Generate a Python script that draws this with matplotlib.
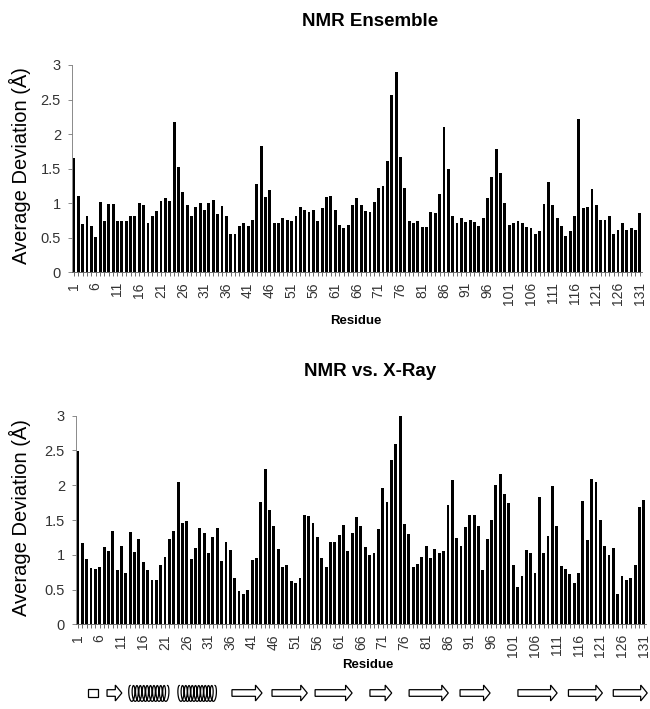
import numpy as np
import matplotlib
matplotlib.use("Agg")
import matplotlib.pyplot as plt
from matplotlib.patches import Rectangle

residues = np.arange(1, 132)

# average deviation per residue, NMR ensemble (A)
ensemble = [
    1.65, 1.11, 0.70, 0.82, 0.67, 0.52, 1.02, 0.75, 0.99, 0.99,
    0.74, 0.74, 0.75, 0.82, 0.82, 1.00, 0.97, 0.71, 0.82, 0.89,
    1.03, 1.08, 1.03, 2.17, 1.53, 1.17, 0.98, 0.82, 0.94, 1.01,
    0.91, 1.01, 1.05, 0.84, 0.96, 0.82, 0.55, 0.55, 0.67, 0.72,
    0.67, 0.76, 1.28, 1.83, 1.09, 1.19, 0.72, 0.71, 0.79, 0.76,
    0.74, 0.82, 0.95, 0.91, 0.88, 0.90, 0.75, 0.93, 1.09, 1.11,
    0.91, 0.69, 0.64, 0.69, 0.97, 1.07, 0.97, 0.89, 0.87, 1.02,
    1.22, 1.25, 1.61, 2.56, 2.90, 1.67, 1.22, 0.75, 0.72, 0.75,
    0.66, 0.66, 0.87, 0.86, 1.13, 2.10, 1.50, 0.81, 0.71, 0.79,
    0.73, 0.76, 0.73, 0.67, 0.79, 1.08, 1.38, 1.78, 1.44, 1.00,
    0.69, 0.71, 0.74, 0.71, 0.66, 0.64, 0.56, 0.60, 0.99, 1.31,
    0.98, 0.79, 0.67, 0.53, 0.60, 0.81, 2.22, 0.93, 0.95, 1.20,
    0.98, 0.76, 0.76, 0.82, 0.56, 0.62, 0.72, 0.62, 0.64, 0.61,
    0.86,
]

# average deviation per residue, NMR vs. X-ray (A)
xray = [
    2.49, 1.17, 0.94, 0.81, 0.79, 0.83, 1.11, 1.06, 1.34, 0.78,
    1.12, 0.74, 1.33, 1.04, 1.22, 0.89, 0.78, 0.64, 0.64, 0.85,
    0.97, 1.23, 1.34, 2.04, 1.46, 1.48, 0.94, 1.10, 1.38, 1.31,
    1.02, 1.25, 1.38, 0.91, 1.18, 1.07, 0.66, 0.48, 0.44, 0.50,
    0.93, 0.96, 1.76, 2.23, 1.65, 1.41, 1.09, 0.82, 0.85, 0.62,
    0.59, 0.66, 1.57, 1.56, 1.45, 1.26, 0.96, 0.82, 1.18, 1.19,
    1.28, 1.43, 1.05, 1.31, 1.55, 1.41, 1.11, 1.00, 1.02, 1.37,
    1.96, 1.76, 2.36, 2.60, 3.00, 1.44, 1.30, 0.83, 0.87, 0.97,
    1.12, 0.95, 1.08, 1.03, 1.06, 1.71, 2.08, 1.24, 1.13, 1.40,
    1.57, 1.57, 1.41, 0.78, 1.23, 1.50, 2.00, 2.16, 1.88, 1.74,
    0.85, 0.53, 0.69, 1.07, 1.02, 0.74, 1.83, 1.03, 1.27, 1.99,
    1.42, 0.84, 0.80, 0.73, 0.59, 0.74, 1.78, 1.21, 2.09, 2.04,
    1.50, 1.12, 0.99, 1.10, 0.44, 0.69, 0.63, 0.66, 0.85, 1.69,
    1.79,
]

tick_labels = [str(r) for r in range(1, 132, 5)]
yticks = [0, 0.5, 1, 1.5, 2, 2.5, 3]
ytick_labels = ["0", "0.5", "1", "1.5", "2", "2.5", "3"]

# secondary structure, in residue numbers
coil_spans = [(4.2, 6.5)]
helix_spans = [(13.4, 23.0), (24.7, 33.9)]
strand_spans = [(8.6, 12.0), (37.3, 44.2), (46.5, 54.6), (56.4, 64.9),
                (69.0, 74.0), (78.0, 87.0), (89.7, 96.6), (103.0, 112.0),
                (114.6, 122.4), (124.9, 132.7)]

plt.rcParams['font.family'] = ['Liberation Sans', 'DejaVu Sans']

W, H = 650, 709
fig = plt.figure(figsize=(6.5, 7.09), dpi=100)


def px_axes(left, right, top, bottom):
    return fig.add_axes([left / W, 1 - bottom / H, (right - left) / W, (bottom - top) / H])


def bar_panel(ax, values):
    ax.bar(residues, values, width=0.66, color='black')
    ax.set_xlim(0.55, 131.5)
    ax.set_ylim(0, 3)
    ax.set_yticks(yticks)
    ax.set_yticklabels(ytick_labels, fontsize=10.5, color='#333333')
    ax.set_xticks(residues, minor=True)
    ax.set_xticks(range(1, 132, 5))
    ax.set_xticklabels(tick_labels, rotation=90, fontsize=10, color='#333333')
    ax.tick_params(axis='x', which='both', length=3, width=0.6, color='#555555', pad=4)
    ax.tick_params(axis='y', length=3, width=0.6, color='#777777', pad=5)
    for s in ['top', 'right']:
        ax.spines[s].set_visible(False)
    ax.spines['left'].set_linewidth(0.6)
    ax.spines['left'].set_color('#777777')
    ax.spines['bottom'].set_linewidth(0.6)
    ax.spines['bottom'].set_color('#555555')


ax1 = px_axes(72, 642, 65, 272.5)
bar_panel(ax1, ensemble)
ax2 = px_axes(76, 646, 415.7, 624.3)
bar_panel(ax2, xray)

fig.text(370 / W, 1 - 21 / H, "NMR Ensemble", ha='center', va='center',
         fontsize=13.5, fontweight='bold')
fig.text(370 / W, 1 - 371 / H, "NMR vs. X-Ray", ha='center', va='center',
         fontsize=13.5, fontweight='bold')
fig.text(356 / W, 1 - 321 / H, "Residue", ha='center', va='center',
         fontsize=9.5, fontweight='bold')
fig.text(368 / W, 1 - 665 / H, "Residue", ha='center', va='center',
         fontsize=9.5, fontweight='bold')
fig.text(20 / W, 1 - 166 / H, "Average Deviation (Å)", ha='center', va='center',
         rotation=90, fontsize=14.5)
fig.text(20 / W, 1 - 518 / H, "Average Deviation (Å)", ha='center', va='center',
         rotation=90, fontsize=14.5)

# secondary structure strip
ax3 = px_axes(72, 642, 682, 704)
ax3.set_xlim(0.55, 131.5)
ax3.set_ylim(0, 1)
ax3.axis('off')

for a, b in coil_spans:
    ax3.add_patch(Rectangle((a, 0.33), b - a, 0.34, facecolor='white',
                            edgecolor='black', lw=0.9, clip_on=False))

for a, b in strand_spans:
    ax3.arrow(a, 0.5, b - a, 0, width=0.3, head_width=0.72, head_length=1.5,
              length_includes_head=True, facecolor='white', edgecolor='black',
              lw=0.9, clip_on=False)

for a, b in helix_spans:
    n = int(round((b - a) / 0.85))
    t = np.linspace(0, n, 400 * n)
    step = (b - a - 1.0) / n
    xs = a + 0.5 + step * t - 0.5 * np.sin(2 * np.pi * t)
    ys = 0.48 + 0.36 * np.cos(2 * np.pi * t)
    ax3.plot(xs, ys, color='black', lw=0.9, clip_on=False)

fig.savefig("out.png", dpi=100)
